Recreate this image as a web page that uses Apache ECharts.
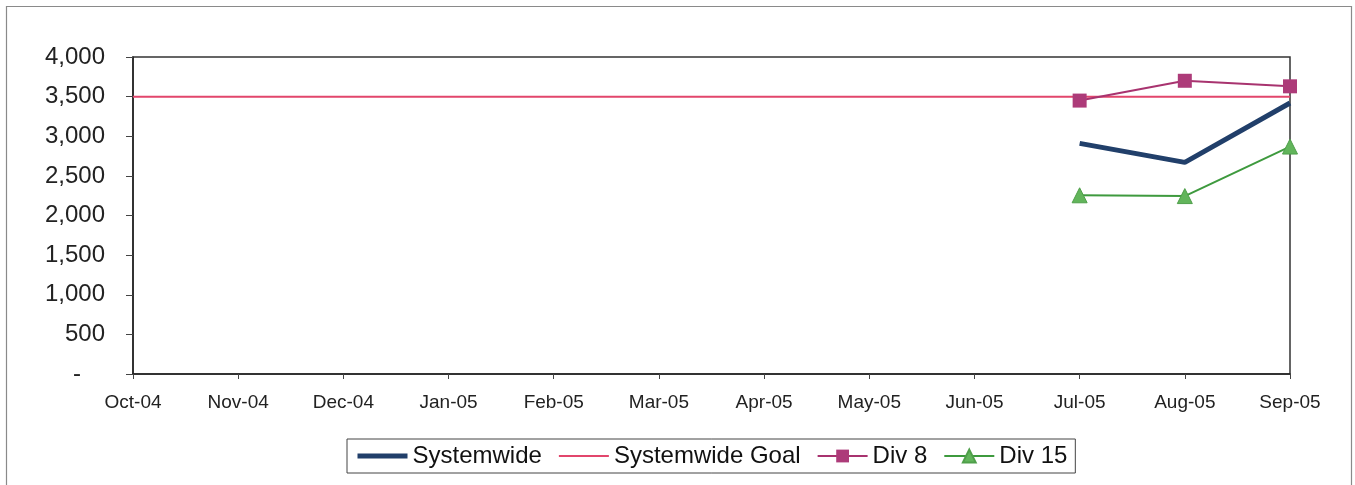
<!DOCTYPE html>
<html>
<head>
<meta charset="utf-8">
<script src="https://cdn.jsdelivr.net/npm/echarts@6/dist/echarts.min.js"></script>
<style>
  html, body { margin: 0; padding: 0; background: #fff; }
  #chart { width: 1355px; height: 485px; }
</style>
</head>
<body>
<div id="chart"></div>
<script>
// Monthly figures, Oct-04 through Sep-05
const months = ['Oct-04', 'Nov-04', 'Dec-04', 'Jan-05', 'Feb-05', 'Mar-05',
                'Apr-05', 'May-05', 'Jun-05', 'Jul-05', 'Aug-05', 'Sep-05'];
const systemwide = [null, null, null, null, null, null, null, null, null, 2910, 2670, 3420];
const systemwideGoal = [3500, 3500, 3500, 3500, 3500, 3500, 3500, 3500, 3500, 3500, 3500, 3500];
const div8 = [null, null, null, null, null, null, null, null, null, 3450, 3700, 3630];
const div15 = [null, null, null, null, null, null, null, null, null, 2255, 2245, 2870];
const yTicks = [0, 500, 1000, 1500, 2000, 2500, 3000, 3500, 4000];

const FONT = '"Liberation Sans", Arial, sans-serif';
const NAVY = '#213f6a';
const GOAL = '#e2466c';
const MAGENTA = '#a8336f';
const GREEN = '#3e9a3e';

const chart = echarts.init(document.getElementById('chart'), null, { renderer: 'canvas' });

// zero is shown as a dash, set in from the other labels
function fmt(v) {
  if (v === 0) return '{dash|-}';
  return v.toLocaleString('en-US');
}

chart.setOption({
  animation: false,
  backgroundColor: '#ffffff',
  graphic: [{
    type: 'rect',
    shape: { x: 6.5, y: 6.5, width: 1345, height: 500 },
    style: { fill: 'none', stroke: '#8a8a8a', lineWidth: 1.2 },
    silent: true,
    z: -1
  }],
  grid: {
    left: 133, right: 65, top: 57, bottom: 111,
    show: true, borderColor: '#333', borderWidth: 1.5,
    containLabel: false
  },
  legend: {
    left: 347, top: 439,
    padding: [5, 8, 5, 8],
    borderColor: '#444', borderWidth: 1,
    itemWidth: 50, itemHeight: 16, itemGap: 16,
    textStyle: { fontFamily: FONT, fontSize: 24, color: '#111' },
    data: [
      { name: 'Systemwide', itemStyle: { opacity: 0 }, lineStyle: { width: 5 } },
      { name: 'Systemwide Goal', itemStyle: { opacity: 0 }, lineStyle: { width: 2 } },
      { name: 'Div 8', lineStyle: { width: 2 } },
      { name: 'Div 15', lineStyle: { width: 2 } }
    ]
  },
  xAxis: {
    type: 'category',
    data: months,
    boundaryGap: false,
    axisLine: { show: true, lineStyle: { color: '#222', width: 1.5 } },
    axisTick: { show: true, length: 5, lineStyle: { color: '#444' } },
    axisLabel: { fontFamily: FONT, fontSize: 19, color: '#222', margin: 19, interval: 0 },
    splitLine: { show: false }
  },
  yAxis: {
    type: 'value',
    min: yTicks[0], max: yTicks[yTicks.length - 1], interval: 500,
    axisLine: { show: true, lineStyle: { color: '#222', width: 1.5 } },
    axisTick: { show: true, length: 7, lineStyle: { color: '#444' } },
    axisLabel: {
      fontFamily: FONT, fontSize: 24, color: '#222', margin: 28, formatter: fmt,
      rich: { dash: { fontFamily: FONT, fontSize: 24, color: '#222', padding: [0, 24, 0, 0] } }
    },
    splitLine: { show: false }
  },
  series: [
    {
      name: 'Systemwide', type: 'line', data: systemwide,
      symbol: 'none', connectNulls: false,
      lineStyle: { color: NAVY, width: 5 },
      itemStyle: { color: NAVY },
      z: 4
    },
    {
      name: 'Systemwide Goal', type: 'line', data: systemwideGoal,
      symbol: 'none',
      lineStyle: { color: GOAL, width: 2 },
      itemStyle: { color: GOAL },
      z: 2
    },
    {
      name: 'Div 8', type: 'line', data: div8,
      symbol: 'rect', symbolSize: 14, showSymbol: true,
      lineStyle: { color: MAGENTA, width: 2 },
      itemStyle: { color: '#ad3b79' },
      z: 3
    },
    {
      name: 'Div 15', type: 'line', data: div15,
      symbol: 'triangle', symbolSize: 15, showSymbol: true,
      lineStyle: { color: GREEN, width: 2 },
      itemStyle: { color: '#62b55b', borderColor: '#4f9f4a', borderWidth: 1 },
      z: 3
    }
  ]
});
</script>
</body>
</html>
